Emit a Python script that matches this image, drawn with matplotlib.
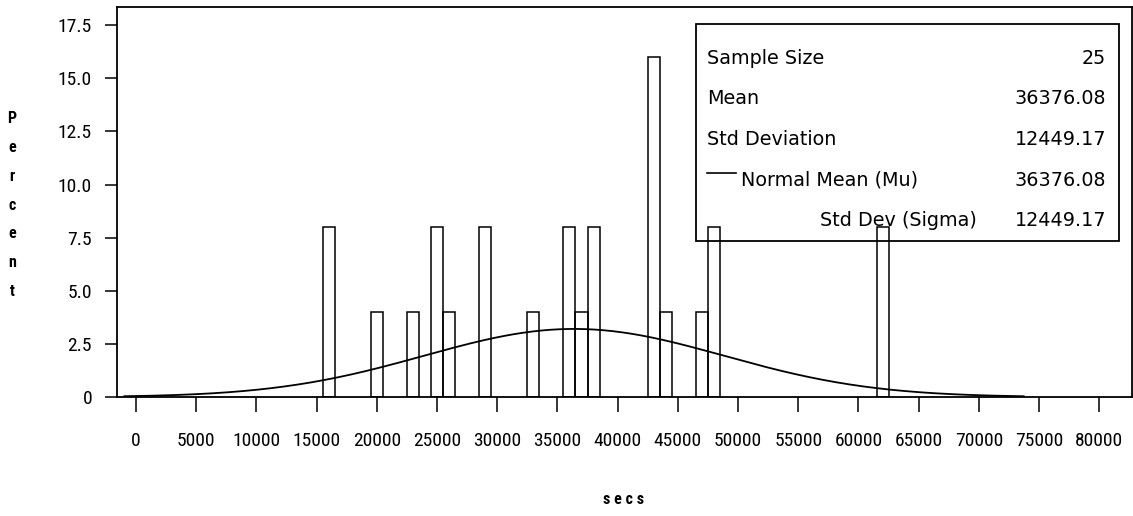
import numpy as np
import matplotlib
matplotlib.use("Agg")
import matplotlib.pyplot as plt
from matplotlib.patches import Rectangle
from matplotlib import font_manager

# Histogram of secs: bin midpoints (bin width 1000) and percent of observations
bin_mids = [16000, 20000, 23000, 25000, 26000, 29000, 33000, 36000, 37000,
            38000, 43000, 44000, 47000, 48000, 62000]
percents = [8, 4, 4, 8, 4, 8, 4, 8, 4, 8, 16, 4, 4, 8, 8]
bin_width = 1000

# Summary statistics
n_obs = 25
mean = 36376.08
std = 12449.17

x_ticks = list(range(0, 80001, 5000))
y_ticks = [0, 2.5, 5.0, 7.5, 10.0, 12.5, 15.0, 17.5]
y_tick_labels = ["0", "2.5", "5.0", "7.5", "10.0", "12.5", "15.0", "17.5"]

# Narrow face for axis numbers if one is installed
installed = {f.name for f in font_manager.fontManager.ttflist}
narrow = [n for n in ["Roboto Condensed", "DejaVu Sans Condensed",
                      "Open Sans Condensed", "Liberation Sans Narrow"] if n in installed]
if narrow:
    tick_font = dict(family=narrow[0], size=14)
else:
    tick_font = dict(family="DejaVu Sans", size=10.5)

W, H = 1133, 516
fig = plt.figure(figsize=(W / 100, H / 100), dpi=100)
ax = fig.add_axes([117 / W, 1 - 397 / H, (1132 - 117) / W, (397 - 7) / H])

box_font = dict(family="DejaVu Sans", size=13.8)

# Bars: outlined, no fill
ax.bar(bin_mids, percents, width=bin_width, facecolor="none",
       edgecolor="black", linewidth=1.1, zorder=2)

# Fitted normal curve, scaled to percent per bin
xs = np.linspace(mean - 3 * std, mean + 3 * std, 400)
ys = 100 * bin_width * np.exp(-0.5 * ((xs - mean) / std) ** 2) / (std * np.sqrt(2 * np.pi))
ax.plot(xs, ys, color="black", linewidth=1.3, zorder=3)

ax.set_xlim(-1580, 82720)
ax.set_ylim(0, 18.36)

ax.set_xticks(x_ticks)
ax.set_xticklabels([str(t) for t in x_ticks], **tick_font)
ax.set_yticks(y_ticks)
ax.set_yticklabels(y_tick_labels, **tick_font)
ax.tick_params(axis="x", direction="out", length=11, width=1.1, pad=14, colors="black")
ax.tick_params(axis="y", direction="out", length=9, width=1.1, pad=9, colors="black")
for s in ax.spines.values():
    s.set_linewidth(1.3)
    s.set_color("black")

# Axis titles
fig.text(12 / W, 1 - 205 / H, "P\ne\nr\nc\ne\nn\nt", ha="center", va="center",
         linespacing=2.15, fontweight="bold", **dict(tick_font, size=11.5))
fig.text(624 / W, 1 - 500 / H, "s e c s", ha="center", va="center",
         fontweight="bold", **dict(tick_font, size=11.5))

# Statistics inset box
def ax_xy(px, py):
    return ((px - 117) / (1132 - 117), (397 - py) / (397 - 7))

bx0, by0 = ax_xy(695.7, 240.7)
bx1, by1 = ax_xy(1118.7, 24.3)
ax.add_patch(Rectangle((bx0, by0), bx1 - bx0, by1 - by0, transform=ax.transAxes,
                       fill=False, edgecolor="black", linewidth=1.3, zorder=4))

rows = [("Sample Size", f"{n_obs}"),
        ("Mean", f"{mean:.2f}"),
        ("Std Deviation", f"{std:.2f}"),
        ("Normal Mean (Mu)", f"{mean:.2f}"),
        ("Std Dev (Sigma)", f"{std:.2f}")]
row_y = [58.3, 98.3, 139.3, 180.0, 220.7]
for i, ((label, value), py) in enumerate(zip(rows, row_y)):
    if i == 3:
        lx, ly = ax_xy(707, py - 7)
        lx2, _ = ax_xy(736, py - 7)
        ax.plot([lx, lx2], [ly, ly], transform=ax.transAxes, color="black",
                linewidth=1.2, zorder=5)
        tx, ty = ax_xy(741, py)
        ax.text(tx, ty, label, transform=ax.transAxes, ha="left", va="center", **box_font)
    elif i == 4:
        tx, ty = ax_xy(977, py)
        ax.text(tx, ty, label, transform=ax.transAxes, ha="right", va="center", **box_font)
    else:
        tx, ty = ax_xy(707, py)
        ax.text(tx, ty, label, transform=ax.transAxes, ha="left", va="center", **box_font)
    vx, vy = ax_xy(1106, py)
    ax.text(vx, vy, value, transform=ax.transAxes, ha="right", va="center", **box_font)

fig.savefig("out.png", dpi=100, facecolor="white")
